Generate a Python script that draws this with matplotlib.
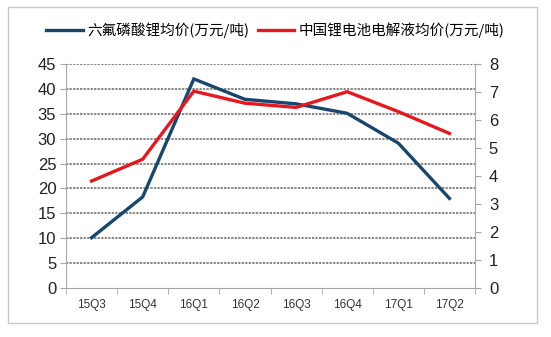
import matplotlib
matplotlib.use("Agg")
import matplotlib.pyplot as plt
from matplotlib.patches import Rectangle
from matplotlib.lines import Line2D

categories = ["15Q3", "15Q4", "16Q1", "16Q2", "16Q3", "16Q4", "17Q1", "17Q2"]
lipf6_price = [10.1, 18.3, 42.0, 37.9, 37.0, 35.1, 29.1, 18.0]
electrolyte_price = [3.82, 4.6, 7.03, 6.6, 6.45, 7.01, 6.3, 5.52]
left_ticks = [0, 5, 10, 15, 20, 25, 30, 35, 40, 45]
right_ticks = [0, 1, 2, 3, 4, 5, 6, 7, 8]
label_blue = "六氟磷酸锂均价(万元/吨)"
label_red = "中国锂电池电解液均价(万元/吨)"

BLUE = "#17466f"
RED = "#e8161d"
GRID = "#666666"
AX = "#a6a6a6"
TICKFONT = ["Liberation Sans", "DejaVu Sans"]
CJK = ["Noto Sans CJK SC", "DejaVu Sans"]

fig = plt.figure(figsize=(5.51, 3.37), dpi=100)
fig.patch.set_facecolor("white")
fig.patches.append(Rectangle((8/551, 1-323/337), (537-8)/551, (323-7)/337,
                             transform=fig.transFigure, fill=False,
                             edgecolor="#c8c8c8", linewidth=1.0))

ax = fig.add_axes([66/551, 1-288/337, (475-66)/551, (288-64)/337])
ax2 = ax.twinx()

x = list(range(len(categories)))
ax.plot(x, lipf6_price, color=BLUE, linewidth=2.4, zorder=3, solid_joinstyle="miter")
ax2.plot(x, electrolyte_price, color=RED, linewidth=2.4, zorder=3, solid_joinstyle="miter")

ax.set_xlim(-0.5, len(categories) - 0.5)
ax.set_ylim(0, 45)
ax2.set_ylim(0, 8)
ax.set_yticks(left_ticks)
ax2.set_yticks(right_ticks)
ax.set_xticks(x)
ax.set_xticklabels(categories)
ax.set_xticks([i - 0.5 for i in range(len(categories) + 1)], minor=True)

for yv in left_ticks[1:]:
    ax.axhline(yv, color=GRID, linestyle=(0, (1.5, 0.8)), linewidth=1.1, zorder=1)

for a in (ax, ax2):
    for s in a.spines.values():
        s.set_visible(False)
ax.spines["left"].set_visible(True)
ax.spines["left"].set_color(AX)
ax.spines["bottom"].set_visible(True)
ax.spines["bottom"].set_color(AX)
ax2.spines["right"].set_visible(True)
ax2.spines["right"].set_color(AX)

ax.tick_params(axis="x", which="major", length=0, pad=8, labelsize=8.5, labelcolor="#333333")
ax.tick_params(axis="x", which="minor", length=4, color=AX, direction="out")
ax.tick_params(axis="y", length=4, color=AX, labelsize=12, labelcolor="#222222", pad=3)
ax2.tick_params(axis="y", length=4, color=AX, labelsize=12, labelcolor="#222222", pad=6)
for lab in ax.get_xticklabels() + ax.get_yticklabels() + ax2.get_yticklabels():
    lab.set_family(TICKFONT)

handles = [Line2D([], [], color=BLUE, linewidth=2.4),
           Line2D([], [], color=RED, linewidth=2.4)]
fig.legend(handles, [label_blue, label_red], loc="center", bbox_to_anchor=(0.5, 1-30/337),
           ncol=2, frameon=False, prop={"family": CJK, "size": 10.5},
           handlelength=2.5, handletextpad=0.3, columnspacing=0.6)

fig.savefig("out.png", dpi=100, facecolor="white")
